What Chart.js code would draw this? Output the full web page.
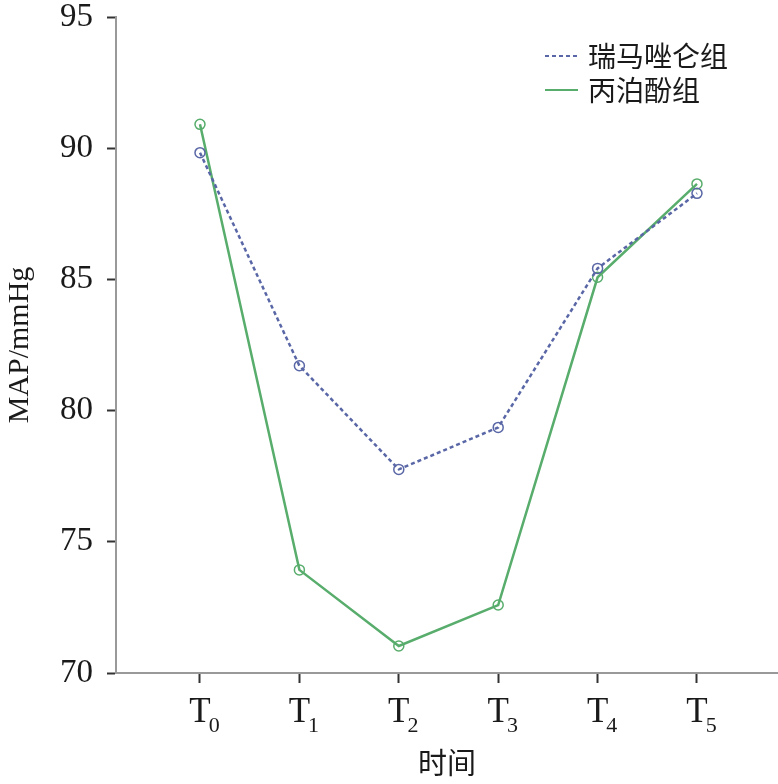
<!DOCTYPE html>
<html>
<head>
<meta charset="utf-8">
<script src="https://cdn.jsdelivr.net/npm/chart.js@4"></script>
<style>
  body { margin: 0; background: #fff; }
</style>
</head>
<body>
<canvas id="chart" width="778" height="784"></canvas>
<script>
// time points, drawn as T with a subscript
const timeBase = ["T", "T", "T", "T", "T", "T"];
const timeSub = ["0", "1", "2", "3", "4", "5"];

const remimazolam = [89.83, 81.71, 77.76, 79.36, 85.42, 88.28];
const propofol = [90.91, 73.93, 71.03, 72.59, 85.08, 88.64];

const yTicks = [70, 75, 80, 85, 90, 95];

const seriesNames = ["瑞马唑仑组", "丙泊酚组"];

const toPoints = (arr) => arr.map((v, i) => ({ x: i, y: v }));

// subscripted x tick labels
const subTicks = {
  id: "subTicks",
  afterDraw(chart) {
    const ctx = chart.ctx;
    const xs = chart.scales.x;
    ctx.save();
    ctx.fillStyle = "#1a1a1a";
    timeBase.forEach((t, i) => {
      const x = xs.getPixelForValue(i);
      ctx.font = '35px "Liberation Serif"';
      ctx.textAlign = "center";
      ctx.textBaseline = "alphabetic";
      ctx.fillText(t, x, 722);
      const w = ctx.measureText(t).width;
      ctx.font = '22px "Liberation Serif"';
      ctx.textAlign = "left";
      ctx.fillText(timeSub[i], x + w / 2 - 2, 732);
    });
    ctx.restore();
  },
};

// legend in the top right of the plot
const cornerLegend = {
  id: "cornerLegend",
  afterDraw(chart) {
    const ctx = chart.ctx;
    ctx.save();
    chart.data.datasets.forEach((ds, i) => {
      const y = 56 + i * 34;
      ctx.strokeStyle = ds.borderColor;
      ctx.lineWidth = 2;
      ctx.setLineDash(ds.borderDash || []);
      ctx.beginPath();
      ctx.moveTo(545, y);
      ctx.lineTo(578, y);
      ctx.stroke();
      ctx.setLineDash([]);
      ctx.fillStyle = "#1a1a1a";
      ctx.font = '28px "Noto Sans CJK SC"';
      ctx.textAlign = "left";
      ctx.textBaseline = "middle";
      ctx.fillText(ds.label, 588, y);
    });
    ctx.restore();
  },
};

new Chart(document.getElementById("chart"), {
  type: "line",
  data: {
    datasets: [
      {
        label: seriesNames[0],
        data: toPoints(remimazolam),
        borderColor: "#5a67a6",
        borderWidth: 2.5,
        borderDash: [4, 3],
        pointRadius: 5,
        pointBorderWidth: 1.5,
        pointBackgroundColor: "rgba(0,0,0,0)",
        pointBorderColor: "#5a67a6",
        tension: 0,
      },
      {
        label: seriesNames[1],
        data: toPoints(propofol),
        borderColor: "#58ad6c",
        borderWidth: 2.5,
        pointRadius: 5,
        pointBorderWidth: 1.5,
        pointBackgroundColor: "rgba(0,0,0,0)",
        pointBorderColor: "#58ad6c",
        tension: 0,
      },
    ],
  },
  options: {
    responsive: false,
    animation: false,
    layout: { autoPadding: false, padding: 0 },
    plugins: {
      legend: { display: false },
      tooltip: { enabled: false },
    },
    scales: {
      x: {
        type: "linear",
        min: -0.845,
        max: 5.815,
        afterBuildTicks: (scale) => {
          scale.ticks = timeSub.map((_, i) => ({ value: i }));
        },
        afterFit: (scale) => {
          scale.height = 111;
          scale.paddingLeft = 0;
          scale.paddingRight = 0;
        },
        ticks: { callback: () => "" },
        grid: {
          drawOnChartArea: false,
          tickLength: 10,
          tickWidth: 2,
          tickColor: "#333",
        },
        border: { color: "#999", width: 2 },
        title: {
          display: true,
          text: "时间",
          color: "#1a1a1a",
          font: { family: "Noto Sans CJK SC", size: 29 },
          padding: { top: 0, bottom: 4 },
        },
      },
      y: {
        min: 70,
        max: 95,
        afterBuildTicks: (scale) => {
          scale.ticks = yTicks.map((v) => ({ value: v }));
        },
        afterFit: (scale) => {
          scale.width = 116;
          scale.paddingTop = 17;
          scale.paddingBottom = 0;
        },
        ticks: {
          color: "#1a1a1a",
          padding: 14,
          font: { family: "Liberation Serif", size: 33 },
        },
        grid: {
          drawOnChartArea: false,
          tickLength: 9,
          tickWidth: 2,
          tickColor: "#333",
        },
        border: { color: "#999", width: 2 },
        title: {
          display: true,
          text: "MAP/mmHg",
          color: "#1a1a1a",
          font: { family: "Liberation Serif", size: 30 },
          padding: { top: 2, bottom: 0 },
        },
      },
    },
  },
  plugins: [subTicks, cornerLegend],
});
</script>
</body>
</html>
